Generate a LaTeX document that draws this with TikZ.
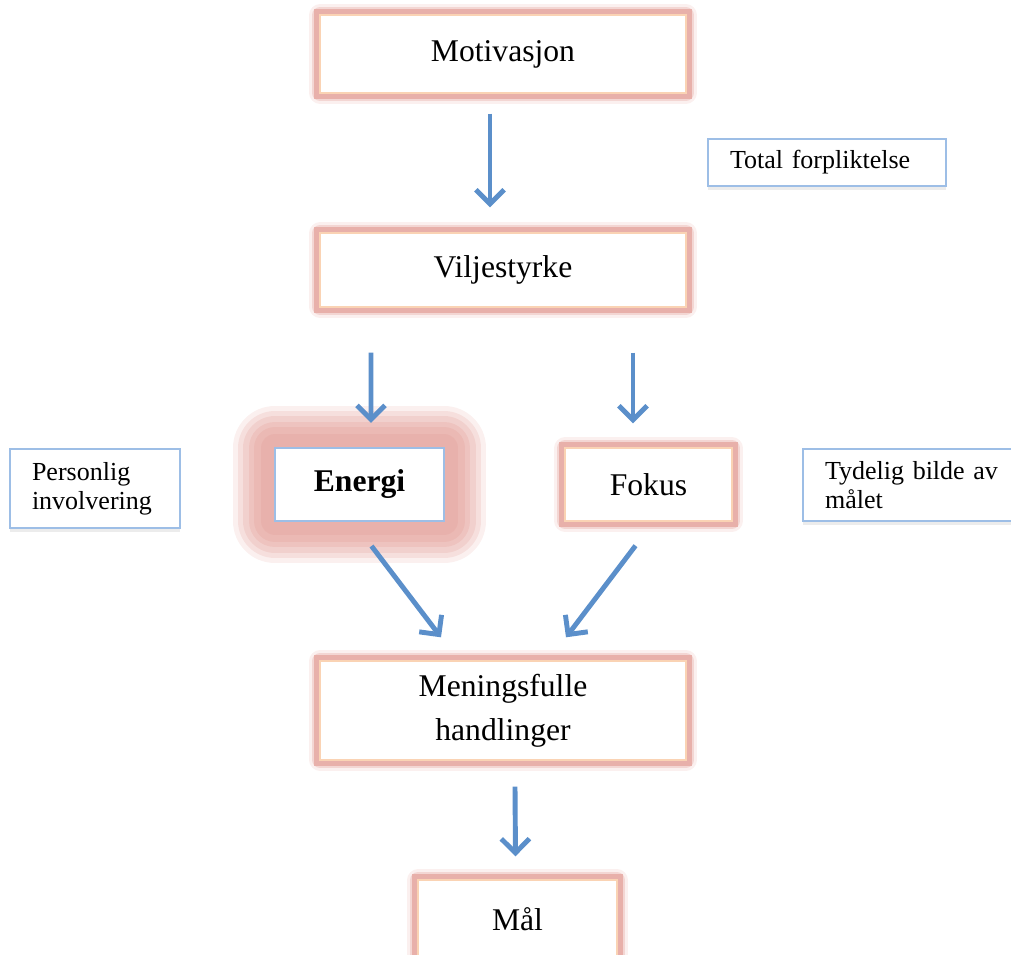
\documentclass[tikz,border=0pt]{standalone}
\usepackage{fontspec}
\setmainfont{Liberation Serif}
\usetikzlibrary{arrows.meta,calc,shadows}

\definecolor{glowred}{HTML}{E29B94}
\definecolor{peachline}{HTML}{FAD3B4}
\definecolor{boxblue}{HTML}{9DBEE6}
\definecolor{arrowblue}{HTML}{5B8FCA}

\begin{document}
\begin{tikzpicture}[x=0.02cm, y=-0.02cm,
  stepbox/.style={rectangle, fill=white, draw=peachline, line width=0.8pt, align=center,
    font=\fontsize{18}{25}\selectfont,
    preaction={draw=glowred, line width=12pt, opacity=.15, line join=round},
    preaction={draw=glowred, line width=9pt, opacity=.3, line join=round},
    preaction={draw=glowred, line width=6.5pt, opacity=.65}},
  energybox/.style={rectangle, fill=white, draw=boxblue, line width=1.2pt,
    font=\fontsize{18}{25}\selectfont\bfseries,
    preaction={draw=glowred, line width=48pt, opacity=.15, line join=round},
    preaction={draw=glowred, line width=42pt, opacity=.2, line join=round},
    preaction={draw=glowred, line width=36pt, opacity=.22, line join=round},
    preaction={draw=glowred, line width=30pt, opacity=.25, line join=round},
    preaction={draw=glowred, line width=24pt, opacity=.25, line join=round},
    preaction={draw=glowred, line width=16pt, opacity=.25, line join=round}},
  notebox/.style={rectangle, fill=white, draw=boxblue, line width=1pt, align=left,
    inner xsep=0.44cm, font=\fontsize{14.8}{16.6}\selectfont,
    drop shadow={opacity=.15, shadow xshift=0pt, shadow yshift=-2pt}},
  flow/.style={draw=arrowblue, line width=2.8pt, -{Straight Barb[length=8pt, width=16pt]}}
]
\useasboundingbox (0,0) rectangle (1011,955);
\clip (0,0) rectangle (1011,955);

% Main chain
\node (motiv) at (503, 54) [stepbox, minimum width=7.32cm, minimum height=1.56cm] {Motivasjon};
\node (vilje) at (503, 270) [stepbox, minimum width=7.32cm, minimum height=1.48cm] {Viljestyrke};
\node (energi) at (359.5, 484.5) [energybox, minimum width=3.38cm, minimum height=1.46cm] {Energi};
\node (fokus) at (648.5, 484.5) [stepbox, minimum width=3.34cm, minimum height=1.46cm] {Fokus};
\node (mening) at (503, 710.5) [stepbox, minimum width=7.32cm, minimum height=1.98cm] {Meningsfulle\\handlinger};
\node (mal) at (517.5, 919) [stepbox, minimum width=3.98cm, minimum height=1.56cm] {Mål};

% Side notes
\node (total) at (827, 162.5) [notebox, text width=3.88cm, minimum height=0.94cm] {Total forpliktelse};
\node (person) at (95, 488.5) [notebox, text width=2.52cm, minimum height=1.58cm] {Personlig\\involvering};
\node (tydelig) at (915, 485) [notebox, text width=3.6cm, minimum height=1.44cm] {Tydelig bilde av\\målet};

% Arrows
\draw[flow] ($(motiv.south)+(-13,20)$) -- ($(vilje.north)+(-13,-25)$);
\draw[flow] ($(vilje.south)+(-132,45)$) -- ($(energi.north)+(11.5,-24)$);
\draw[flow] ($(vilje.south)+(130,45)$) -- ($(fokus.north)+(-15.5,-24)$);
\draw[flow] ($(energi.south)+(12,24)$) -- ($(mening.north)+(-62,-23)$);
\draw[flow] ($(fokus.south)+(-13,24)$) -- ($(mening.north)+(63,-23)$);
\draw[flow] ($(mening.south)+(12,26)$) -- ($(mal.north)+(-2,-23)$);
\end{tikzpicture}
\end{document}
